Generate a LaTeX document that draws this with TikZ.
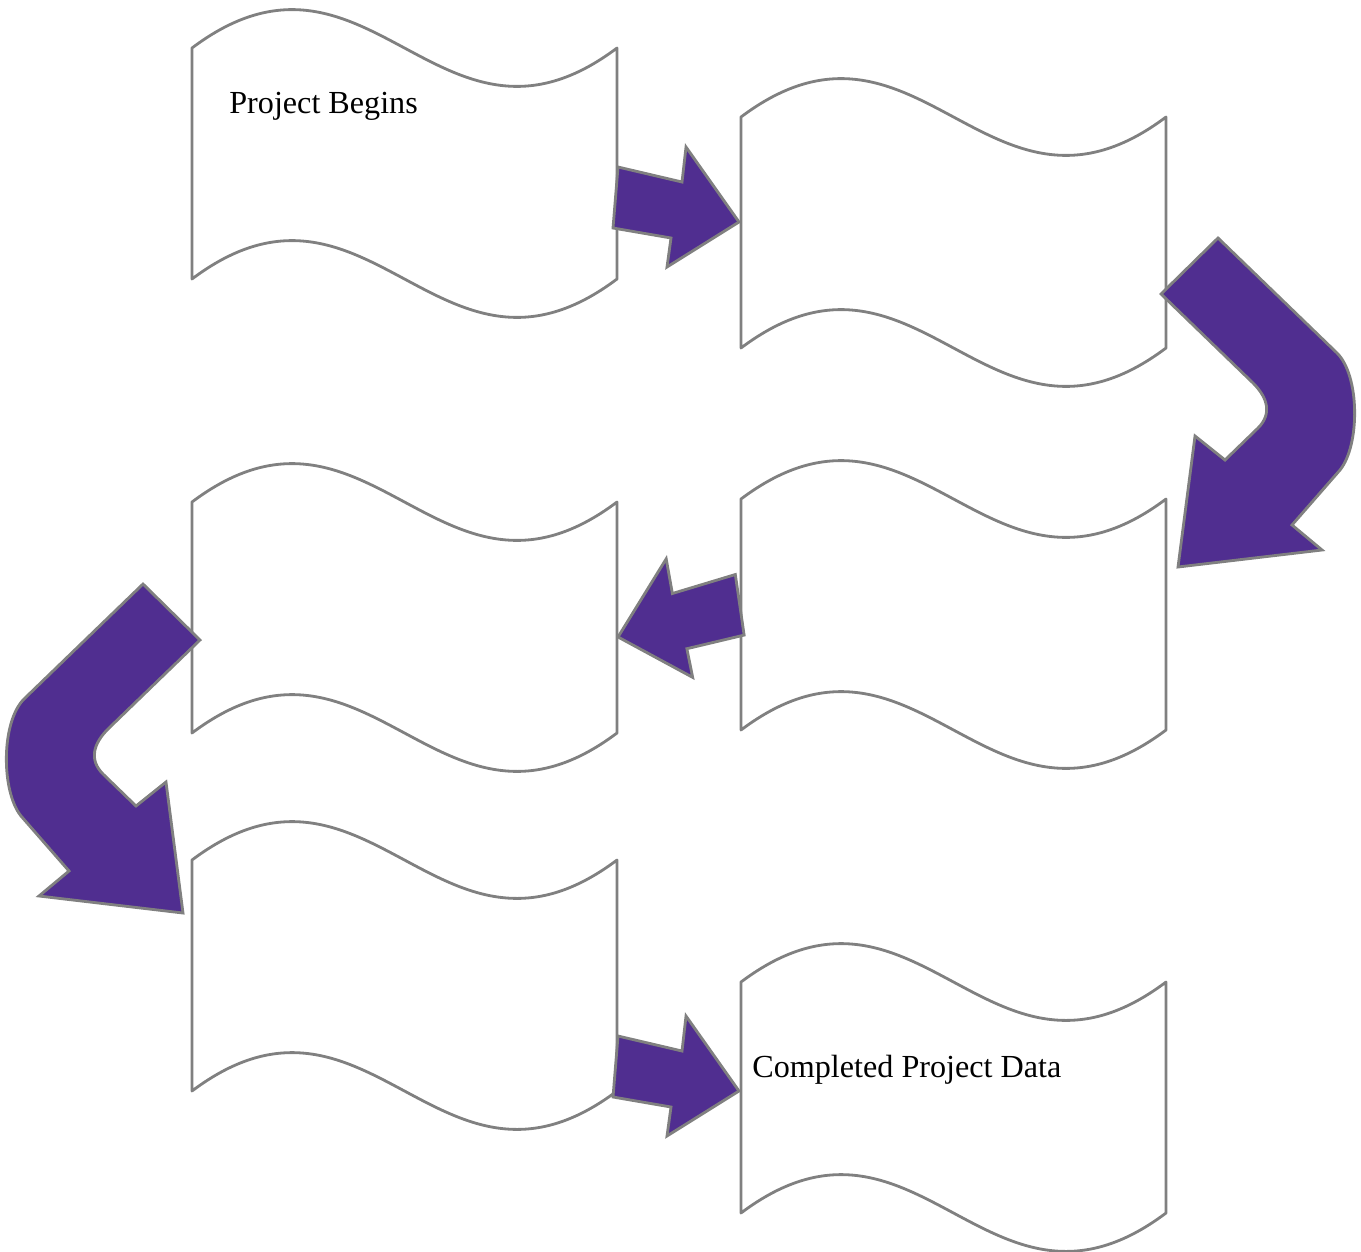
\documentclass[tikz,border=0pt]{standalone}
\usepackage{fontspec}
\setmainfont{Liberation Serif}
\usetikzlibrary{positioning}

\definecolor{waveline}{RGB}{128,128,128}
\definecolor{arrowpurple}{RGB}{80,46,144}

\tikzset{
    wavebox/.style={draw=waveline, fill=white, line width=1.6pt, line join=round},
    arrowbody/.style={draw=waveline, fill=arrowpurple, line width=1.6pt},
    wavetext/.style={anchor=base west, inner sep=0pt, font=\fontsize{18.3}{22}\selectfont},
    pics/banner/.style={code={
        \draw[wavebox] (0,0) .. controls (177,-133) and (248,133) .. (425,0)
            -- (425,231) .. controls (248,364) and (177,98) .. (0,231) -- cycle;
    }},
    pics/straightarrow/.style={code={
        \draw[arrowbody] (-121,-55) -- (-57,-40) -- (-53,-75) -- (0,0)
            -- (-72,45) -- (-68,16) -- (-126,6) -- cycle;
    }},
    pics/bendarrow/.style={code={
        \draw[arrowbody] (-17,-273) -- (75,-184) .. controls (90,-169) and (94,-153) .. (80,-139)
            -- (47,-107) -- (17,-131) -- (0,0) -- (144,-17) -- (114,-42) -- (162,-97)
            .. controls (182,-122) and (182,-191) .. (159,-214) -- (40,-329) -- cycle;
    }}
}

\begin{document}
\begin{tikzpicture}[x=0.02cm, y=-0.02cm]
        \useasboundingbox (0,0) rectangle (1361,1251);
        % banners
        \coordinate (b1) at (192,48);
        \coordinate (b2) at (741,117);
        \coordinate (b3) at (192,502);
        \coordinate (b4) at (741,499);
        \coordinate (b5) at (192,860);
        \coordinate (b6) at (741,982);
        \foreach \b in {b1,b2,b3,b4,b5,b6}
            \pic at (\b) {banner};
        \node[wavetext] (begins) at (229,113) {Project Begins};
        \node[wavetext] (completed) at (752,1077) {Completed Project Data};
        % arrows
        \pic at (739,222) {straightarrow};
        \pic at (1178,567) {bendarrow};
        \pic[rotate=3.6, xscale=-1] at (618,637) {straightarrow};
        \pic[xscale=-1] at (183,913) {bendarrow};
        \pic at (739,1091) {straightarrow};
\end{tikzpicture}
\end{document}
